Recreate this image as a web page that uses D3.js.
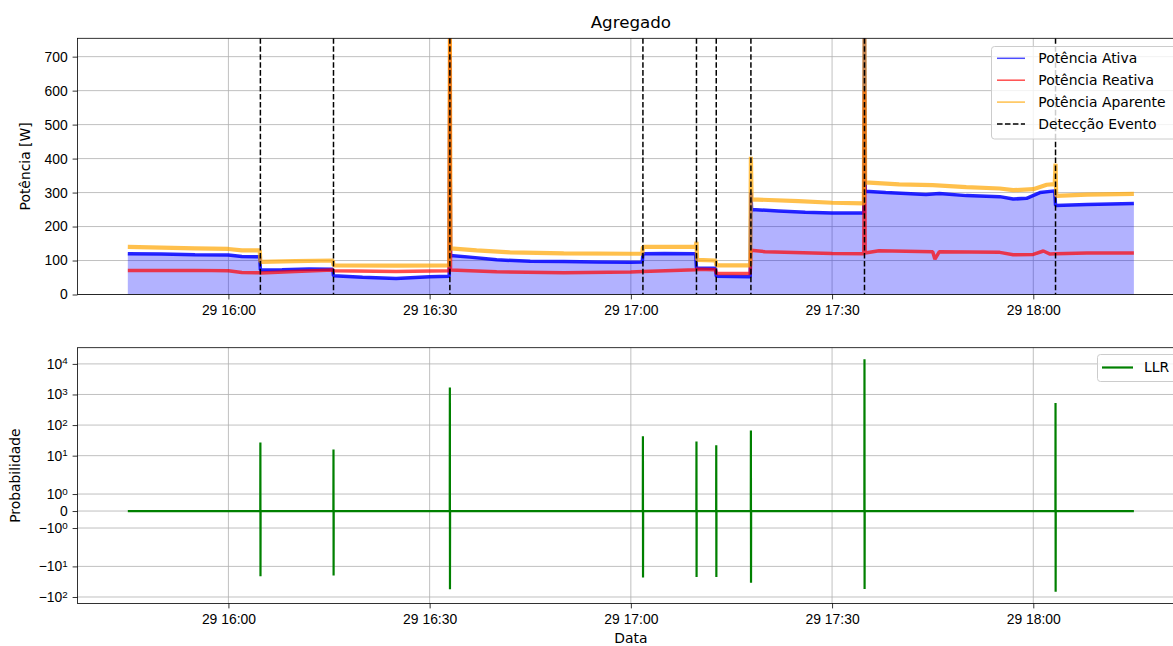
<!DOCTYPE html>
<html>
<head>
<meta charset="utf-8">
<script src="https://cdn.jsdelivr.net/npm/d3@7"></script>
<style>
  body { margin: 0; background: #fff; }
  svg { font-family: "DejaVu Sans", sans-serif; }
  .tick text { font-size: 13.9px; fill: #000; }
  .tick line { stroke: #000; stroke-width: 0.8; }
  .domain { display: none; }
  .grid line { stroke: #b0b0b0; stroke-width: 0.8; }
</style>
</head>
<body>
<svg id="chart" width="1173" height="646"></svg>
<script>
// ---- dados ----
var day = "2023-03-29T";

// Potência Ativa [W]
var ativaT = ["15:45:00","15:50:00","15:55:00","16:00:00","16:02:00","16:04:40","16:04:46","16:08:00","16:12:00","16:15:34",
  "16:15:40","16:20:00","16:25:00","16:30:00","16:32:55","16:33:01","16:33:07","16:36:00","16:40:00","16:45:00",
  "16:50:00","16:55:00","17:00:00","17:01:42","17:01:48","17:05:00","17:09:40","17:09:47","17:12:38","17:12:44",
  "17:17:48","17:17:54","17:18:00","17:22:00","17:26:00","17:30:00","17:34:44","17:34:50","17:34:56","17:38:00",
  "17:44:00","17:46:00","17:50:00","17:55:00","17:57:00","17:59:00","18:01:00","18:03:12","18:03:19","18:08:00","18:15:00"];
var ativaV = [120,119,117,116,112,111,72,73,75,74,
  55,51,47,52,54,700,115,110,102,98,
  97,96,95,96,120,121,120,78,77,54,
  52,300,250,246,242,240,240,754,304,300,
  294,297,291,288,281,283,300,305,262,265,268];

// Potência Reativa [W]
var reativaT = ["15:45:00","15:55:00","16:00:00","16:02:00","16:04:40","16:04:46","16:10:00","16:15:34","16:15:40","16:25:00",
  "16:32:55","16:33:01","16:33:07","16:40:00","16:50:00","17:00:00","17:01:48","17:09:40","17:09:47","17:12:38",
  "17:12:44","17:17:48","17:17:54","17:20:00","17:30:00","17:34:44","17:34:50","17:34:56","17:37:00","17:45:00",
  "17:45:20","17:46:00","17:55:00","17:57:00","18:00:00","18:01:30","18:02:30","18:03:19","18:08:00","18:15:00"];
var reativaV = [71,71,70,65,64,63,68,72,70,68,
  70,754,72,67,64,66,68,73,74,73,
  62,62,130,126,121,120,600,122,129,126,
  104,126,124,117,118,128,119,120,122,122];

// Potência Aparente [W]
var aparenteT = ["15:45:00","15:50:00","15:55:00","16:00:00","16:02:00","16:04:40","16:04:46","16:10:00","16:15:34","16:15:40",
  "16:25:00","16:32:55","16:33:01","16:33:07","16:37:00","16:42:00","16:50:00","17:00:00","17:01:42","17:01:48",
  "17:09:40","17:09:47","17:09:53","17:12:38","17:12:44","17:17:48","17:17:54","17:18:00","17:25:00","17:30:00",
  "17:34:44","17:34:50","17:34:56","17:40:00","17:45:00","17:50:00","17:55:00","17:57:00","18:00:00","18:02:00",
  "18:03:12","18:03:19","18:03:25","18:08:00","18:15:00"];
var aparenteV = [140,138,136,134,130,130,96,98,100,86,
  85,86,754,136,130,124,121,120,120,140,
  140,155,102,100,86,86,405,280,275,270,
  268,754,330,324,322,316,312,307,310,323,
  325,385,290,294,296];

// Detecção de eventos
var eventos = ["16:04:46","16:15:40","16:33:01","17:01:48","17:09:47","17:12:44","17:17:54","17:34:50","18:03:19"];

// LLR
var llrT = ["15:45:00",
  "16:04:45","16:04:46","16:04:47","16:04:48",
  "16:15:39","16:15:40","16:15:41","16:15:42",
  "16:33:00","16:33:01","16:33:02","16:33:03",
  "17:01:47","17:01:48","17:01:49","17:01:50",
  "17:09:46","17:09:47","17:09:48","17:09:49",
  "17:12:43","17:12:44","17:12:45","17:12:46",
  "17:17:53","17:17:54","17:17:55","17:17:56",
  "17:34:49","17:34:50","17:34:51","17:34:52",
  "18:03:18","18:03:19","18:03:20","18:03:21",
  "18:15:00"];
var llrV = [0,
  0,27,-21,0,
  0,16,-20,0,
  0,1700,-56,0,
  0,43,-23,0,
  0,29,-22,0,
  0,22,-22,0,
  0,66,-34,0,
  0,14100,-55,0,
  0,526,-68,0,
  0];

var legendaTop = ["Potência Ativa","Potência Reativa","Potência Aparente","Detecção Evento"];
var yTicksTop = [0,100,200,300,400,500,600,700];
var yTicksLLR = [10000,1000,100,10,1,0,-1,-10,-100];

// ---- configuração ----
var parseT = function(s) { return new Date(day + s + "Z"); };
var zip = function(ts, vs) { return ts.map(function(t, i) { return {t: parseT(t), v: vs[i]}; }); };
var ativa = zip(ativaT, ativaV), reativa = zip(reativaT, reativaV), aparente = zip(aparenteT, aparenteV);
var llr = zip(llrT, llrV);

var svg = d3.select("#chart");
var L = 77.5, R = 1184.2;
var top1 = 38.3, bot1 = 294.5;
var top2 = 347.7, bot2 = 603.5;

var x = d3.scaleUtc().domain([parseT("15:37:30"), parseT("18:22:30")]).range([L, R]);
var ymax = d3.max([ativaV, reativaV, aparenteV], function(a) { return d3.max(a); });
var y1 = d3.scaleLinear().domain([0, ymax]).range([bot1, top1]);

// symlog estilo matplotlib (linthresh=2, linscale=1)
var linthresh = 2, linadj = 1 / (1 - 0.1);
function symlog(v) {
  var a = Math.abs(v);
  if (a <= linthresh) return v * linadj;
  return Math.sign(v) * linthresh * (linadj + Math.log10(a / linthresh));
}
var sMin = symlog(d3.min(llrV)), sMax = symlog(d3.max(llrV));
var pad = (sMax - sMin) * 0.05;
var y2 = d3.scaleLinear().domain([sMin - pad, sMax + pad]).range([bot2, top2]);

var xTicks = d3.utcMinute.every(30).range(parseT("16:00:00"), parseT("18:00:01"));
var fmt = d3.utcFormat("%d %H:%M");

svg.append("defs").html(
  '<clipPath id="c1"><rect x="' + L + '" y="' + top1 + '" width="' + (R - L) + '" height="' + (bot1 - top1) + '"/></clipPath>' +
  '<clipPath id="c2"><rect x="' + L + '" y="' + top2 + '" width="' + (R - L) + '" height="' + (bot2 - top2) + '"/></clipPath>');

function grid(g, yScale, yTicks, yFn, t, b) {
  var gg = g.append("g").attr("class", "grid");
  gg.selectAll(".gx").data(xTicks).enter().append("line")
    .attr("x1", function(d) { return x(d); }).attr("x2", function(d) { return x(d); })
    .attr("y1", t).attr("y2", b);
  gg.selectAll(".gy").data(yTicks).enter().append("line")
    .attr("x1", L).attr("x2", R)
    .attr("y1", function(d) { return yScale(yFn(d)); }).attr("y2", function(d) { return yScale(yFn(d)); });
}

function xAxis(b) {
  var ax = svg.append("g").attr("transform", "translate(0," + b + ")")
    .call(d3.axisBottom(x).tickValues(xTicks).tickFormat(fmt).tickSizeOuter(0).tickSize(4.9).tickPadding(4.9));
  ax.selectAll("text").attr("dy", "0.75em");
}

// ---- painel superior ----
var p1 = svg.append("g");
grid(p1, y1, yTicksTop, function(d) { return d; }, top1, bot1);
var c1 = p1.append("g").attr("clip-path", "url(#c1)");

c1.append("path").datum(ativa)
  .attr("fill", "rgba(0,0,255,0.3)")
  .attr("d", d3.area().x(function(d) { return x(d.t); }).y0(y1(0)).y1(function(d) { return y1(d.v); }));

var line1 = d3.line().x(function(d) { return x(d.t); }).y(function(d) { return y1(d.v); });
c1.append("path").datum(ativa).attr("fill", "none").attr("stroke", "blue").attr("stroke-opacity", 0.85)
  .attr("stroke-width", 3.5).attr("stroke-linejoin", "bevel").attr("d", line1);
c1.append("path").datum(reativa).attr("fill", "none").attr("stroke", "red").attr("stroke-opacity", 0.7)
  .attr("stroke-width", 3.5).attr("stroke-linejoin", "bevel").attr("d", line1);
c1.append("path").datum(aparente).attr("fill", "none").attr("stroke", "orange").attr("stroke-opacity", 0.7)
  .attr("stroke-width", 4.2).attr("stroke-linejoin", "bevel").attr("d", line1);

c1.selectAll(".ev").data(eventos).enter().append("line")
  .attr("x1", function(d) { return x(parseT(d)); }).attr("x2", function(d) { return x(parseT(d)); })
  .attr("y1", top1).attr("y2", bot1)
  .attr("stroke", "black").attr("stroke-width", 1.5).attr("stroke-dasharray", "5.55,2.4");

p1.append("rect").attr("x", L).attr("y", top1).attr("width", R - L).attr("height", bot1 - top1)
  .attr("fill", "none").attr("stroke", "#000").attr("stroke-width", 0.8);

svg.append("g").attr("transform", "translate(" + L + ",0)")
  .call(d3.axisLeft(y1).tickValues(yTicksTop).tickSizeOuter(0).tickSize(4.9).tickPadding(4.9));
xAxis(bot1);

svg.append("text").attr("x", (L + R) / 2).attr("y", 28).attr("text-anchor", "middle")
  .attr("font-size", "16.7px").text("Agregado");
svg.append("text").attr("transform", "translate(30," + (top1 + bot1) / 2 + ") rotate(-90)")
  .attr("text-anchor", "middle").attr("font-size", "13.9px").text("Potência [W]");

// legenda superior
var lg = svg.append("g");
lg.append("rect").attr("x", 991.5).attr("y", 46.5).attr("width", 186).attr("height", 92.5)
  .attr("rx", 3).attr("fill", "rgba(255,255,255,0.8)").attr("stroke", "#cccccc").attr("stroke-width", 1);
var lgStyle = [
  {c: "blue", o: 0.7, dash: null},
  {c: "red", o: 0.7, dash: null},
  {c: "orange", o: 0.7, dash: null},
  {c: "black", o: 1, dash: "5.55,2.4"}];
legendaTop.forEach(function(name, i) {
  var yy = 58.3 + i * 21.9;
  lg.append("line").attr("x1", 997).attr("x2", 1025).attr("y1", yy).attr("y2", yy)
    .attr("stroke", lgStyle[i].c).attr("stroke-opacity", lgStyle[i].o).attr("stroke-width", 1.5)
    .attr("stroke-dasharray", lgStyle[i].dash);
  lg.append("text").attr("x", 1038.3).attr("y", yy).attr("dy", "0.35em").attr("font-size", "13.9px").text(name);
});

// ---- painel inferior ----
var p2 = svg.append("g");
grid(p2, y2, yTicksLLR, symlog, top2, bot2);
var c2 = p2.append("g").attr("clip-path", "url(#c2)");
c2.append("path").datum(llr).attr("fill", "none").attr("stroke", "green").attr("stroke-width", 2.2)
  .attr("d", d3.line().x(function(d) { return x(d.t); }).y(function(d) { return y2(symlog(d.v)); }));

p2.append("rect").attr("x", L).attr("y", top2).attr("width", R - L).attr("height", bot2 - top2)
  .attr("fill", "none").attr("stroke", "#000").attr("stroke-width", 0.8);

var yAx2 = svg.append("g").attr("transform", "translate(" + L + ",0)")
  .call(d3.axisLeft(y2).tickValues(yTicksLLR.map(symlog)).tickFormat("").tickSizeOuter(0).tickSize(4.9));
yAx2.selectAll(".tick").each(function(d, i) {
  var v = yTicksLLR[i];
  var t = d3.select(this).append("text").attr("x", -9.8).attr("dy", "0.32em").attr("text-anchor", "end");
  if (v === 0) { t.text("0"); return; }
  var e = Math.round(Math.log10(Math.abs(v)));
  t.append("tspan").text((v < 0 ? "\u2212" : "") + "10");
  t.append("tspan").attr("dy", "-0.45em").attr("font-size", "9.8px").text(e);
});
xAxis(bot2);

svg.append("text").attr("x", (L + R) / 2).attr("y", 643).attr("text-anchor", "middle")
  .attr("font-size", "13.9px").text("Data");
svg.append("text").attr("transform", "translate(20," + (top2 + bot2) / 2 + ") rotate(-90)")
  .attr("text-anchor", "middle").attr("font-size", "13.9px").text("Probabilidade");

// legenda inferior
var lg2 = svg.append("g");
lg2.append("rect").attr("x", 1097.5).attr("y", 354.5).attr("width", 80).attr("height", 27)
  .attr("rx", 3).attr("fill", "rgba(255,255,255,0.8)").attr("stroke", "#cccccc").attr("stroke-width", 1);
lg2.append("line").attr("x1", 1102).attr("x2", 1133).attr("y1", 367.5).attr("y2", 367.5)
  .attr("stroke", "green").attr("stroke-width", 2.2);
lg2.append("text").attr("x", 1144).attr("y", 367.5).attr("dy", "0.35em").attr("font-size", "13.9px").text("LLR");
</script>
</body>
</html>
